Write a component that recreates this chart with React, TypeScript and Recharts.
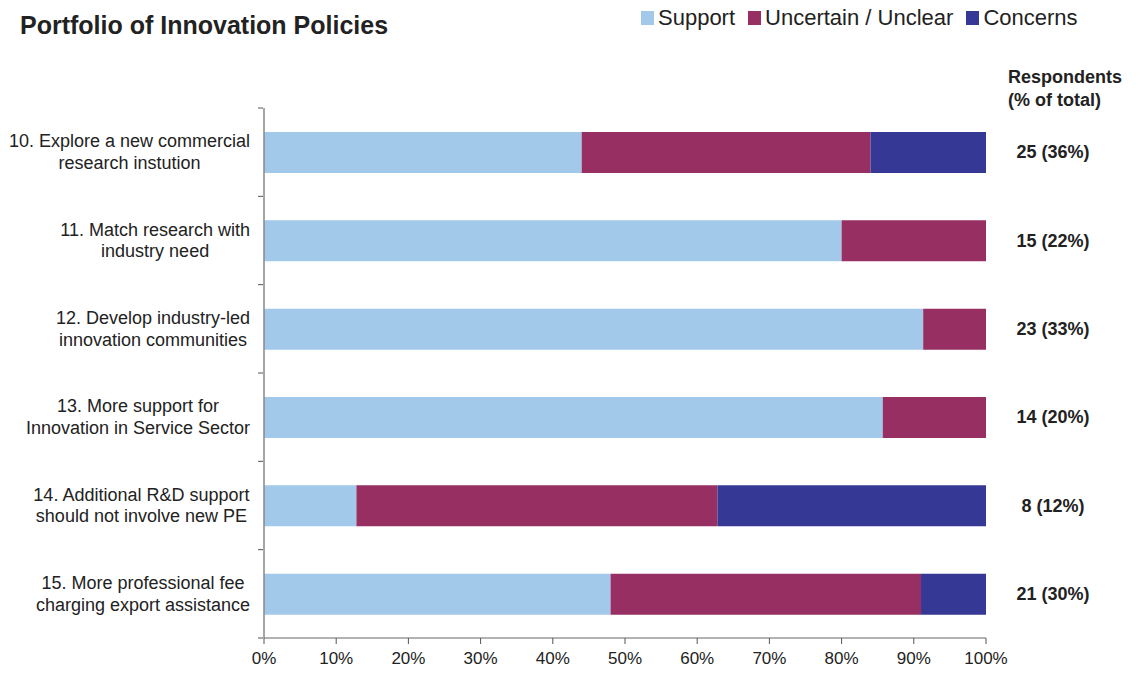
import { Bar, BarChart, XAxis, YAxis } from 'recharts';

const categories = ['10', '11', '12', '13', '14', '15'];

const categoryLines = [
  ['10. Explore a new commercial', 'research instution'],
  ['11. Match research with', 'industry need'],
  ['12. Develop industry-led', 'innovation communities'],
  ['13. More support for', 'Innovation in Service Sector'],
  ['14. Additional R&D support', 'should not involve new PE'],
  ['15. More professional fee', 'charging export assistance'],
];

const support = [44, 80, 91.3, 85.7, 12.8, 48];
const uncertain = [40, 20, 8.7, 14.3, 50, 43];
const concerns = [16, 0, 0, 0, 37.2, 9];

const respondents = ['25 (36%)', '15 (22%)', '23 (33%)', '14 (20%)', '8 (12%)', '21 (30%)'];

const xTicks = [0, 10, 20, 30, 40, 50, 60, 70, 80, 90, 100];

const COLORS = {
  support: '#a3c9ea',
  uncertain: '#982f62',
  concerns: '#353995',
};

const FONT = '"Liberation Sans", Arial, sans-serif';
const WIDTH = 1138;
const HEIGHT = 675;
const MARGIN = { top: 108, right: 0, bottom: 0, left: 0 };
const LEFT_AXIS_W = 264;
const RIGHT_AXIS_W = 152;
const X_AXIS_H = 37;
const BAND = (HEIGHT - MARGIN.top - X_AXIS_H) / categories.length;

const data = categories.map((name, i) => ({
  name,
  support: support[i],
  uncertain: uncertain[i],
  concerns: concerns[i],
}));

let ctx: CanvasRenderingContext2D | null = null;
function textWidth(s: string, font: string) {
  if (!ctx) ctx = document.createElement('canvas').getContext('2d');
  if (!ctx) return s.length * 9;
  ctx.font = font;
  return ctx.measureText(s).width;
}

// two-line label, lines centred on each other, block right-aligned to the axis
function CategoryTick(props: any) {
  const { y, index } = props;
  const lines = categoryLines[index] || [];
  const font = `18px ${FONT}`;
  const w = Math.max(...lines.map((l) => textWidth(l, font)));
  const right = LEFT_AXIS_W - 14;
  const cx = right - w / 2;
  const axisX = LEFT_AXIS_W - 1;
  return (
    <g>
      <line x1={axisX - 5} x2={axisX} y1={y - BAND / 2} y2={y - BAND / 2} stroke="#555" />
      {index === categories.length - 1 && (
        <line x1={axisX - 5} x2={axisX} y1={y + BAND / 2} y2={y + BAND / 2} stroke="#555" />
      )}
      <text textAnchor="middle" fontSize={18} fontFamily={FONT} fill="#222">
        {lines.map((l, i) => (
          <tspan key={i} x={cx} y={y + 6 + (i - (lines.length - 1) / 2) * 21.5}>
            {l}
          </tspan>
        ))}
      </text>
    </g>
  );
}

function RespondentTick(props: any) {
  const { y, index } = props;
  return (
    <text
      x={WIDTH - RIGHT_AXIS_W + 67}
      y={y}
      dy="0.35em"
      textAnchor="middle"
      fontSize={18}
      fontWeight="bold"
      fontFamily={FONT}
      fill="#222"
    >
      {respondents[index]}
    </text>
  );
}

const legendItems = [
  { label: 'Support', color: COLORS.support },
  { label: 'Uncertain / Unclear', color: COLORS.uncertain },
  { label: 'Concerns', color: COLORS.concerns },
];

export default function App() {
  return (
    <div
      style={{
        position: 'absolute',
        left: 0,
        top: 0,
        width: WIDTH,
        height: HEIGHT,
        background: '#fff',
        fontFamily: FONT,
        color: '#222',
      }}
    >
      <div style={{ position: 'absolute', left: 20, top: 11, fontSize: 25, fontWeight: 'bold' }}>
        Portfolio of Innovation Policies
      </div>
      <div
        style={{
          position: 'absolute',
          left: 641,
          top: 5,
          display: 'flex',
          alignItems: 'center',
          fontSize: 22,
          gap: 13,
        }}
      >
        {legendItems.map((it) => (
          <div key={it.label} style={{ display: 'flex', alignItems: 'center', gap: 4 }}>
            <span style={{ width: 13, height: 14, background: it.color, display: 'inline-block' }} />
            <span>{it.label}</span>
          </div>
        ))}
      </div>
      <div
        style={{
          position: 'absolute',
          left: 1008,
          top: 66,
          fontSize: 18,
          fontWeight: 'bold',
          lineHeight: '23px',
        }}
      >
        Respondents
        <br />
        (% of total)
      </div>
      <BarChart
        width={WIDTH}
        height={HEIGHT}
        data={data}
        layout="vertical"
        margin={MARGIN}
        barSize={41}
      >
        <XAxis
          type="number"
          domain={[0, 100]}
          ticks={xTicks}
          tickFormatter={(v) => `${v}%`}
          height={X_AXIS_H}
          tick={{ fontSize: 17, fill: '#222', fontFamily: FONT }}
          tickSize={6}
          tickMargin={8}
          axisLine={{ stroke: '#666' }}
          tickLine={{ stroke: '#555' }}
        />
        <YAxis
          yAxisId="left"
          type="category"
          dataKey="name"
          width={LEFT_AXIS_W}
          axisLine={{ stroke: '#888', strokeWidth: 1.5 }}
          tickLine={false}
          tick={<CategoryTick />}
          interval={0}
        />
        <YAxis
          yAxisId="right"
          orientation="right"
          type="category"
          dataKey="name"
          width={RIGHT_AXIS_W}
          axisLine={false}
          tickLine={false}
          tick={<RespondentTick />}
          interval={0}
        />
        <Bar yAxisId="left" dataKey="support" stackId="a" fill={COLORS.support} isAnimationActive={false} />
        <Bar yAxisId="left" dataKey="uncertain" stackId="a" fill={COLORS.uncertain} isAnimationActive={false} />
        <Bar yAxisId="left" dataKey="concerns" stackId="a" fill={COLORS.concerns} isAnimationActive={false} />
      </BarChart>
    </div>
  );
}
